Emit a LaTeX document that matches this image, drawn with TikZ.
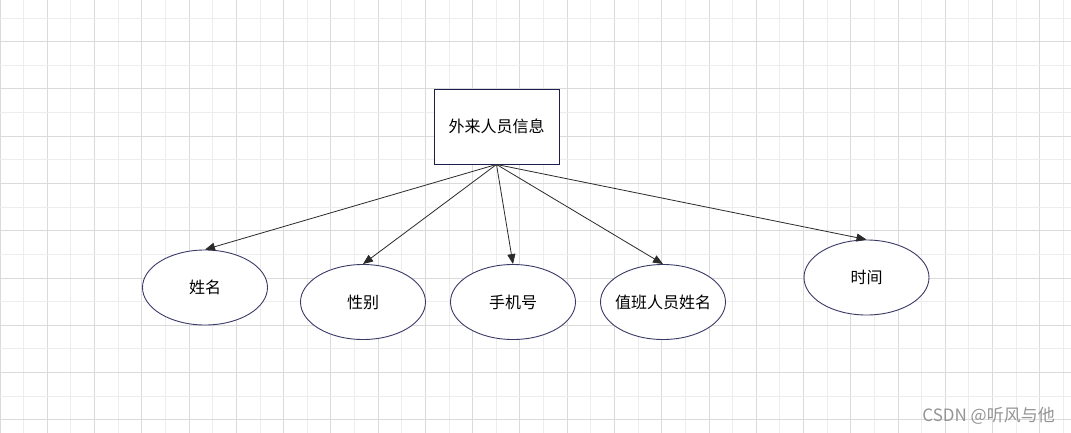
\documentclass[tikz,border=0pt]{standalone}
\usepackage{fontspec}
\newfontfamily\cjk{Noto Sans CJK SC}
\usetikzlibrary{shapes.geometric,arrows.meta}
\definecolor{gridminor}{HTML}{EDEDED}
\definecolor{gridmajor}{HTML}{DADADA}
\definecolor{boxline}{HTML}{1E1E4E}
\definecolor{ellline}{HTML}{3A3A66}
\definecolor{arrowline}{HTML}{2A2A2A}
\tikzset{
  entity/.style={draw=boxline, line width=0.9pt, fill=white, minimum width=125pt, minimum height=75pt, inner sep=0pt, font=\cjk\fontsize{16}{19}\selectfont},
  attr/.style={ellipse, draw=ellline, line width=0.9pt, fill=white, minimum width=125pt, minimum height=75pt, inner sep=0pt, font=\cjk\fontsize{16}{19}\selectfont},
  link/.style={draw=arrowline, line width=0.8pt, -{Triangle[length=10pt,width=8pt]}},
  mark text/.style={font=\cjk\fontsize{17}{20}\selectfont, text=black!42}
}
\begin{document}
\begin{tikzpicture}[x=1pt,y=-1pt]
\useasboundingbox (0,0) rectangle (1071,433);
\fill[white] (0,0) rectangle (1071,433);
% grid
\foreach \k in {0,...,45} {
  \pgfmathsetmacro{\xx}{\k*23.63}
  \pgfmathtruncatemacro{\gpar}{mod(\k,2)}
  \ifnum\gpar=0
    \draw[gridmajor, line width=0.8pt] (\xx,0) -- (\xx,433);
  \else
    \draw[gridminor, line width=0.8pt] (\xx,0) -- (\xx,433);
  \fi
}
\foreach \k in {-1,...,17} {
  \pgfmathsetmacro{\yy}{18+\k*23.63}
  \pgfmathtruncatemacro{\gpar}{mod(\k+2,2)}
  \ifnum\gpar=1
    \draw[gridmajor, line width=0.8pt] (0,\yy) -- (1071,\yy);
  \else
    \draw[gridminor, line width=0.8pt] (0,\yy) -- (1071,\yy);
  \fi
}
% nodes
\node[entity] (top) at (496.5,126.5) {外来人员信息};
\node[attr] (e1) at (205,287.5) {姓名};
\node[attr] (e2) at (363,302) {性别};
\node[attr] (e3) at (513,302) {手机号};
\node[attr] (e4) at (663,302) {\makebox[0pt]{值班人员姓名}};
\node[attr] (e5) at (866.5,277.5) {时间};
% connectors
\draw[link] (top.south) -- (e1.north);
\draw[link] (top.south) -- (e2.north);
\draw[link] (top.south) -- (e3.north);
\draw[link] (top.south) -- (e4.north);
\draw[link] (top.south) -- (e5.north);
% watermark
\node[mark text, anchor=base east, inner sep=0pt] (wm) at (1055,421) {CSDN @听风与他};
\end{tikzpicture}
\end{document}
